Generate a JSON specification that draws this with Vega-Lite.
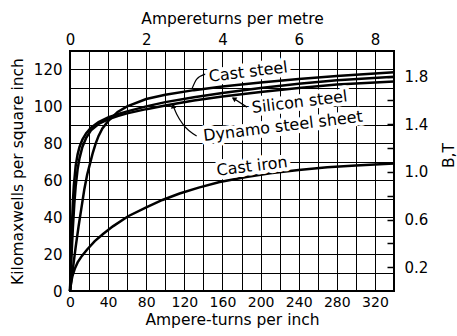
{
  "$schema": "https://vega.github.io/schema/vega-lite/v6.json",
  "width": 324,
  "height": 240,
  "autosize": {"type": "none"},
  "padding": {"left": 70, "top": 51, "right": 63, "bottom": 45},
  "background": "white",
  "config": {
    "view": {"stroke": "black", "strokeWidth": 2},
    "axis": {
      "labelFont": "DejaVu Sans", "titleFont": "DejaVu Sans",
      "labelFontSize": 15, "titleFontSize": 15.5,
      "labelColor": "black", "titleColor": "black", "titleFontWeight": "normal",
      "domain": false, "gridColor": "black", "gridOpacity": 1, "gridWidth": 1,
      "tickColor": "black", "labelOverlap": false, "labelFlush": false, "tickCount": 60
    }
  },
  "datasets": {
    "curves": [
      {"material": "Cast steel", "H": 0, "B": 0}, {"material": "Cast steel", "H": 3, "B": 12}, {"material": "Cast steel", "H": 6, "B": 24}, {"material": "Cast steel", "H": 9, "B": 35}, {"material": "Cast steel", "H": 12, "B": 45}, {"material": "Cast steel", "H": 15, "B": 55}, {"material": "Cast steel", "H": 18, "B": 63}, {"material": "Cast steel", "H": 21, "B": 69}, {"material": "Cast steel", "H": 24, "B": 75}, {"material": "Cast steel", "H": 27, "B": 80}, {"material": "Cast steel", "H": 30, "B": 84}, {"material": "Cast steel", "H": 34, "B": 88}, {"material": "Cast steel", "H": 40, "B": 92}, {"material": "Cast steel", "H": 50, "B": 97}, {"material": "Cast steel", "H": 60, "B": 100}, {"material": "Cast steel", "H": 80, "B": 104}, {"material": "Cast steel", "H": 100, "B": 106.3}, {"material": "Cast steel", "H": 130, "B": 108.8}, {"material": "Cast steel", "H": 160, "B": 110.8}, {"material": "Cast steel", "H": 200, "B": 113}, {"material": "Cast steel", "H": 240, "B": 114.8}, {"material": "Cast steel", "H": 280, "B": 116.5}, {"material": "Cast steel", "H": 340, "B": 118.5},
      {"material": "Silicon steel", "H": 0, "B": 0}, {"material": "Silicon steel", "H": 1, "B": 18}, {"material": "Silicon steel", "H": 2, "B": 35}, {"material": "Silicon steel", "H": 3, "B": 48}, {"material": "Silicon steel", "H": 4, "B": 57}, {"material": "Silicon steel", "H": 6, "B": 68}, {"material": "Silicon steel", "H": 8, "B": 74}, {"material": "Silicon steel", "H": 10, "B": 78}, {"material": "Silicon steel", "H": 13, "B": 82}, {"material": "Silicon steel", "H": 17, "B": 85.5}, {"material": "Silicon steel", "H": 22, "B": 88.5}, {"material": "Silicon steel", "H": 30, "B": 91.5}, {"material": "Silicon steel", "H": 40, "B": 94}, {"material": "Silicon steel", "H": 50, "B": 95.8}, {"material": "Silicon steel", "H": 60, "B": 97.3}, {"material": "Silicon steel", "H": 80, "B": 100}, {"material": "Silicon steel", "H": 100, "B": 102.3}, {"material": "Silicon steel", "H": 130, "B": 105}, {"material": "Silicon steel", "H": 160, "B": 107.3}, {"material": "Silicon steel", "H": 200, "B": 110}, {"material": "Silicon steel", "H": 240, "B": 112.3}, {"material": "Silicon steel", "H": 280, "B": 114.2}, {"material": "Silicon steel", "H": 340, "B": 116},
      {"material": "Dynamo steel sheet", "H": 0, "B": 0}, {"material": "Dynamo steel sheet", "H": 1.5, "B": 18}, {"material": "Dynamo steel sheet", "H": 3, "B": 34}, {"material": "Dynamo steel sheet", "H": 4.5, "B": 47}, {"material": "Dynamo steel sheet", "H": 6, "B": 57}, {"material": "Dynamo steel sheet", "H": 8, "B": 66}, {"material": "Dynamo steel sheet", "H": 10, "B": 72}, {"material": "Dynamo steel sheet", "H": 13, "B": 78}, {"material": "Dynamo steel sheet", "H": 17, "B": 83}, {"material": "Dynamo steel sheet", "H": 22, "B": 87}, {"material": "Dynamo steel sheet", "H": 30, "B": 90.5}, {"material": "Dynamo steel sheet", "H": 40, "B": 93}, {"material": "Dynamo steel sheet", "H": 50, "B": 94.8}, {"material": "Dynamo steel sheet", "H": 60, "B": 96.2}, {"material": "Dynamo steel sheet", "H": 80, "B": 98.5}, {"material": "Dynamo steel sheet", "H": 100, "B": 100.5}, {"material": "Dynamo steel sheet", "H": 130, "B": 103.2}, {"material": "Dynamo steel sheet", "H": 160, "B": 105.3}, {"material": "Dynamo steel sheet", "H": 200, "B": 107.8}, {"material": "Dynamo steel sheet", "H": 240, "B": 110}, {"material": "Dynamo steel sheet", "H": 280, "B": 111.8}, {"material": "Dynamo steel sheet", "H": 340, "B": 113.5},
      {"material": "Cast iron", "H": 0, "B": 0}, {"material": "Cast iron", "H": 1, "B": 4}, {"material": "Cast iron", "H": 2.5, "B": 8}, {"material": "Cast iron", "H": 5, "B": 12}, {"material": "Cast iron", "H": 8, "B": 15.5}, {"material": "Cast iron", "H": 12.5, "B": 19}, {"material": "Cast iron", "H": 18, "B": 22.5}, {"material": "Cast iron", "H": 26, "B": 27}, {"material": "Cast iron", "H": 35, "B": 31}, {"material": "Cast iron", "H": 45, "B": 35}, {"material": "Cast iron", "H": 61, "B": 40.5}, {"material": "Cast iron", "H": 80, "B": 45.3}, {"material": "Cast iron", "H": 97, "B": 49.3}, {"material": "Cast iron", "H": 115, "B": 52.8}, {"material": "Cast iron", "H": 135, "B": 56}, {"material": "Cast iron", "H": 157, "B": 59}, {"material": "Cast iron", "H": 185, "B": 61.8}, {"material": "Cast iron", "H": 210, "B": 63.8}, {"material": "Cast iron", "H": 240, "B": 65.6}, {"material": "Cast iron", "H": 270, "B": 67}, {"material": "Cast iron", "H": 300, "B": 68}, {"material": "Cast iron", "H": 340, "B": 69}
    ],
    "labels": [
      {"text": "Cast steel", "H": 187, "B": 118.6},
      {"text": "Silicon steel", "H": 241, "B": 102.3},
      {"text": "Dynamo steel sheet", "H": 223.5, "B": 89.2},
      {"text": "Cast iron", "H": 191, "B": 67.5}
    ],
    "leaders": [
      {"leader": "cast", "H": 142, "B": 117.5}, {"leader": "cast", "H": 133, "B": 114.8}, {"leader": "cast", "H": 128, "B": 109.5},
      {"leader": "silicon", "H": 185.7, "B": 99.6}, {"leader": "silicon", "H": 171, "B": 104.5},
      {"leader": "dynamo", "H": 132.9, "B": 84}, {"leader": "dynamo", "H": 118.6, "B": 90.3}, {"leader": "dynamo", "H": 112, "B": 95.8}, {"leader": "dynamo", "H": 108.5, "B": 100}
    ],
    "arrows": [
      {"leader": "silicon", "H": 172, "B": 104.2},
      {"leader": "dynamo", "H": 108.3, "B": 100.3}
    ],
    "axes2": [{"atm": 0, "bt": 0}]
  },
  "layer": [
    {
      "layer": [
        {
          "data": {"name": "curves"},
          "mark": {"type": "line", "color": "black", "strokeWidth": 2.5},
          "encoding": {
            "x": {"field": "H", "type": "quantitative", "scale": {"domain": [0, 340], "nice": false},
              "axis": {"orient": "bottom", "values": [0, 20, 40, 60, 80, 100, 120, 140, 160, 180, 200, 220, 240, 260, 280, 300, 320, 340],
                "labelExpr": "datum.value % 40 == 0 && datum.value <= 320 ? datum.label : ''", "tickCount": 60, "format": "d",
                "labelFontSize": 14, "title": "Ampere-turns per inch", "ticks": false, "grid": true, "labelPadding": 4, "titlePadding": 3}},
            "y": {"field": "B", "type": "quantitative", "scale": {"domain": [0, 130], "nice": false},
              "axis": {"orient": "left", "values": [0, 10, 20, 30, 40, 50, 60, 70, 80, 90, 100, 110, 120, 130],
                "labelExpr": "datum.value % 20 == 0 && datum.value <= 120 ? datum.label : ''", "tickCount": 60, "format": "d",
                "title": "Kilomaxwells per square inch", "ticks": false, "grid": true, "labelPadding": 8, "titlePadding": 8}},
            "detail": {"field": "material"}
          }
        },
        {
          "data": {"name": "leaders"},
          "mark": {"type": "line", "color": "black", "strokeWidth": 1.2, "interpolate": "monotone"},
          "encoding": {
            "x": {"field": "H", "type": "quantitative"},
            "y": {"field": "B", "type": "quantitative"},
            "detail": {"field": "leader"}
          }
        },
        {
          "data": {"name": "arrows"},
          "transform": [{"filter": "datum.leader == 'silicon'"}],
          "mark": {"type": "point", "shape": "triangle-up", "filled": true, "color": "black", "size": 30, "angle": 301, "opacity": 1},
          "encoding": {
            "x": {"field": "H", "type": "quantitative"},
            "y": {"field": "B", "type": "quantitative"}
          }
        },
        {
          "data": {"name": "arrows"},
          "transform": [{"filter": "datum.leader == 'dynamo'"}],
          "mark": {"type": "point", "shape": "triangle-up", "filled": true, "color": "black", "size": 30, "angle": 350, "opacity": 1},
          "encoding": {
            "x": {"field": "H", "type": "quantitative"},
            "y": {"field": "B", "type": "quantitative"}
          }
        },
        {
          "data": {"name": "labels"},
          "mark": {"type": "text", "font": "DejaVu Sans", "fontSize": 16, "angle": 353, "align": "center", "baseline": "middle", "stroke": "white", "strokeWidth": 8, "strokeJoin": "round", "fill": "white"},
          "encoding": {
            "x": {"field": "H", "type": "quantitative"},
            "y": {"field": "B", "type": "quantitative"},
            "text": {"field": "text"}
          }
        },
        {
          "data": {"name": "labels"},
          "mark": {"type": "text", "font": "DejaVu Sans", "fontSize": 16, "angle": 353, "align": "center", "baseline": "middle", "color": "black"},
          "encoding": {
            "x": {"field": "H", "type": "quantitative"},
            "y": {"field": "B", "type": "quantitative"},
            "text": {"field": "text"}
          }
        }
      ]
    },
    {
      "data": {"name": "axes2"},
      "mark": {"type": "point", "opacity": 0},
      "encoding": {
        "x": {"field": "atm", "type": "quantitative", "scale": {"domain": [0, 8.5], "nice": false},
          "axis": {"orient": "top", "values": [0, 2, 4, 6, 8], "format": "d", "title": "Ampereturns per metre", "ticks": false, "grid": false, "labelPadding": 4, "titlePadding": 6}},
        "y": {"field": "bt", "type": "quantitative", "scale": {"domain": [0, 2.015], "nice": false},
          "axis": {"orient": "right", "values": [0.2, 0.4, 0.6, 0.8, 1.0, 1.2, 1.4, 1.6, 1.8], "format": ".1f", "tickCount": 60,
            "labelExpr": "indexof(['0.2','0.6','1.0','1.4','1.8'], datum.label) >= 0 ? datum.label : ''",
            "title": "B,T", "titleAngle": 270, "titleY": 104, "offset": -7, "ticks": true, "tickSize": 7, "tickWidth": 1.5, "tickColor": "black", "grid": false, "labelPadding": 10, "titlePadding": 29}}
      }
    }
  ],
  "resolve": {"scale": {"x": "independent", "y": "independent"}}
}
